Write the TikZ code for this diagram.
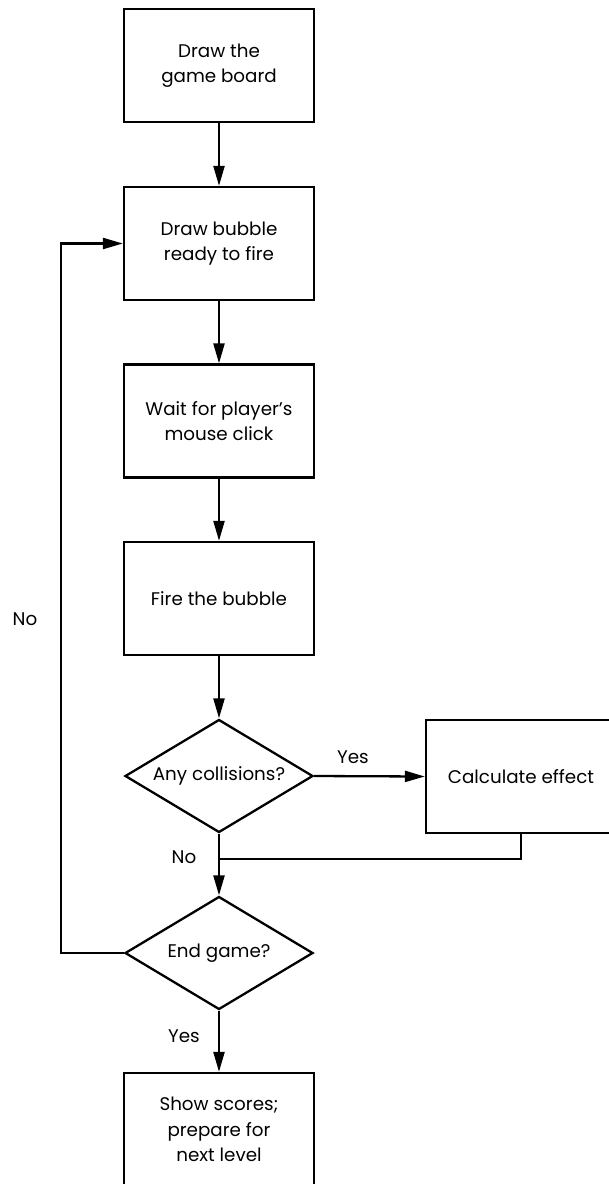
\documentclass[tikz,border=0pt]{standalone}
\usepackage{fontspec}
\setmainfont{Poppins}
\usetikzlibrary{shapes.geometric,arrows.meta}
\begin{document}
\begin{tikzpicture}[x=1pt,y=-1pt,
  every node/.style={font=\fontsize{18.3}{25.5}\selectfont},
  box/.style={draw,line width=2.3pt,minimum width=190pt,minimum height=113pt,align=center,inner sep=0pt},
  dia/.style={draw,diamond,shape aspect=1.66,line width=2.3pt,minimum width=188pt,minimum height=113pt,inner sep=0pt,align=center},
  arr/.style={line width=2.3pt,-{Triangle[length=20pt,width=11pt]}},
  ln/.style={line width=2.3pt},
  lbl/.style={inner sep=0pt}]
\useasboundingbox (0,0) rectangle (609,1184);
\clip (0,0) rectangle (609,1184);
\node[box] (b1) at (219,65.5) {Draw the\\game board};
\node[box] (b2) at (219,243.5) {Draw bubble\\ready to fire};
\node[box] (b3) at (219,421) {Wait for player’s\\mouse click};
\node[box] (b4) at (219,598.5) {Fire the bubble};
\node[dia] (d1) at (219,776) {Any collisions?};
\node[box] (calc) at (521,776.5) {Calculate effect};
\node[dia] (d2) at (219,953) {End game?};
\node[box] (b5) at (219,1129.5) {Show scores;\\prepare for\\next level};
\coordinate (m) at (219,859);
\draw[arr] (b1) -- (b2);
\draw[arr] (b2) -- (b3);
\draw[arr] (b3) -- (b4);
\draw[arr] (b4) -- (d1);
\draw[arr] (d1.east) -- (calc.west);
\draw[arr] (d1.south) -- (d2.north);
\draw[ln] (calc.south) |- (m);
\draw[arr] (d2.west) -- ++(-63,0) |- (b2.west);
\draw[arr] (d2.south) -- (b5.north);
\node[lbl] (yes1) at (353,757) {Yes};
\node[lbl] (no1) at (184,857) {No};
\node[lbl] (yes2) at (184,1036) {Yes};
\node[lbl] (no2) at (25,619) {No};
\end{tikzpicture}
\end{document}
